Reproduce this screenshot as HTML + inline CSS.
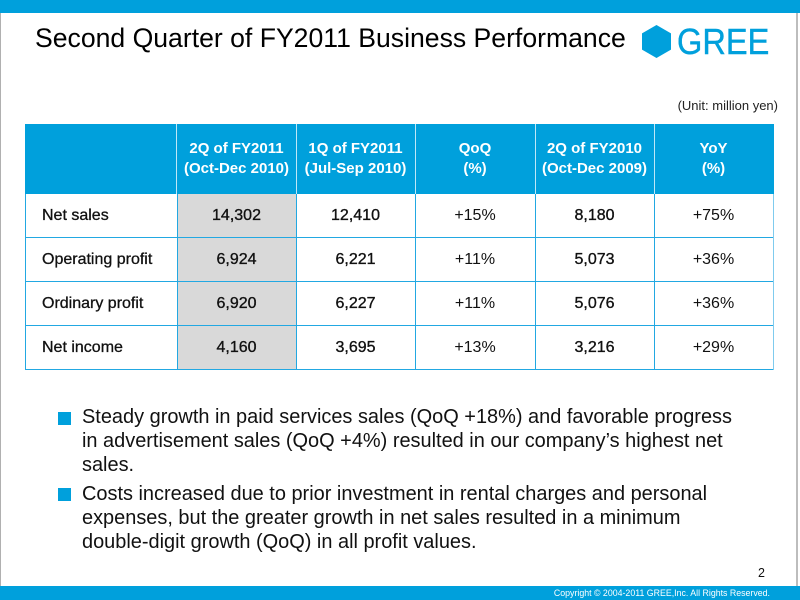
<!DOCTYPE html>
<html>
<head>
<meta charset="utf-8">
<style>
  html,body{margin:0;padding:0;}
  body{width:800px;height:600px;position:relative;overflow:hidden;background:#fff;font-family:"Liberation Sans",Arial,sans-serif;}
  .a{position:absolute;white-space:nowrap;line-height:1;}
  .bar{position:absolute;left:0;width:800px;background:#00a0dc;}
  .hcell{position:absolute;top:124px;height:70px;color:#fff;font-weight:bold;font-size:15px;line-height:20px;text-align:center;display:flex;align-items:center;justify-content:center;}
  .cell{position:absolute;height:44px;display:flex;align-items:center;justify-content:center;font-size:16px;color:#111;}
  .num{-webkit-text-stroke:0.35px #111;}
  .lbl{justify-content:flex-start;padding-left:17px;box-sizing:border-box;-webkit-text-stroke:0.3px #111;}
  .hl{position:absolute;left:25px;width:749px;height:1px;background:#22a8e2;}
  .vl{position:absolute;top:194px;height:176px;width:1px;background:#22a8e2;}
  .hv{position:absolute;top:124px;height:70px;width:1px;background:#bfe7f7;}
  .sq{position:absolute;width:13px;height:13px;background:#00a0dc;}
  .bt{position:absolute;left:82px;font-size:19.95px;line-height:24px;color:#111;white-space:nowrap;}
</style>
</head>
<body>
<!-- top and bottom bars -->
<div class="bar" style="top:0;height:13px;"></div>
<div class="bar" style="top:586px;height:14px;"></div>
<!-- side borders -->
<div style="position:absolute;left:0;top:13px;width:1px;height:573px;background:#b0b0b0;"></div>
<div style="position:absolute;left:796px;top:13px;width:2px;height:573px;background:#bdbdbd;"></div>

<!-- title -->
<div class="a" style="left:35px;top:24.6px;font-size:26.6px;color:#000;">Second Quarter of FY2011 Business Performance</div>

<!-- logo -->
<svg style="position:absolute;left:0;top:0;" width="800" height="70">
  <polygon points="656.5,25 671,33.4 671,49.6 656.5,58 642,49.6 642,33.4" fill="#00a0dc"/>
</svg>
<div class="a" style="left:677px;top:23.8px;font-size:36px;color:#00a0dc;transform:scaleX(0.905);transform-origin:0 0;-webkit-text-stroke:0.4px #00a0dc;">GREE</div>

<!-- unit -->
<div class="a" style="right:22px;top:99px;font-size:13px;color:#222;">(Unit: million yen)</div>

<!-- table header -->
<div style="position:absolute;left:25px;top:124px;width:749px;height:70px;background:#00a0dc;"></div>
<div class="hcell" style="left:177px;width:119px;">2Q of FY2011<br>(Oct-Dec 2010)</div>
<div class="hcell" style="left:296px;width:119px;">1Q of FY2011<br>(Jul-Sep 2010)</div>
<div class="hcell" style="left:415px;width:120px;">QoQ<br>(%)</div>
<div class="hcell" style="left:535px;width:119px;">2Q of FY2010<br>(Oct-Dec 2009)</div>
<div class="hcell" style="left:654px;width:119px;">YoY<br>(%)</div>
<div class="hv" style="left:176px;"></div>
<div class="hv" style="left:296px;"></div>
<div class="hv" style="left:415px;"></div>
<div class="hv" style="left:535px;"></div>
<div class="hv" style="left:654px;"></div>

<!-- gray column -->
<div style="position:absolute;left:177px;top:194px;width:119px;height:175px;background:#d9d9d9;"></div>

<!-- grid -->
<div class="hl" style="top:237px;"></div>
<div class="hl" style="top:281px;"></div>
<div class="hl" style="top:325px;"></div>
<div class="hl" style="top:369px;"></div>
<div class="vl" style="left:25px;"></div>
<div class="vl" style="left:177px;"></div>
<div class="vl" style="left:296px;"></div>
<div class="vl" style="left:415px;"></div>
<div class="vl" style="left:535px;"></div>
<div class="vl" style="left:654px;"></div>
<div class="vl" style="left:773px;background:#7fcbee;"></div>

<!-- rows -->
<div class="cell lbl" style="left:25px;width:152px;top:194px;">Net sales</div>
<div class="cell num" style="left:177px;width:119px;top:194px;">14,302</div>
<div class="cell num" style="left:296px;width:119px;top:194px;">12,410</div>
<div class="cell" style="left:415px;width:120px;top:194px;">+15%</div>
<div class="cell num" style="left:535px;width:119px;top:194px;">8,180</div>
<div class="cell" style="left:654px;width:119px;top:194px;">+75%</div>

<div class="cell lbl" style="left:25px;width:152px;top:238px;">Operating profit</div>
<div class="cell num" style="left:177px;width:119px;top:238px;">6,924</div>
<div class="cell num" style="left:296px;width:119px;top:238px;">6,221</div>
<div class="cell" style="left:415px;width:120px;top:238px;">+11%</div>
<div class="cell num" style="left:535px;width:119px;top:238px;">5,073</div>
<div class="cell" style="left:654px;width:119px;top:238px;">+36%</div>

<div class="cell lbl" style="left:25px;width:152px;top:282px;">Ordinary profit</div>
<div class="cell num" style="left:177px;width:119px;top:282px;">6,920</div>
<div class="cell num" style="left:296px;width:119px;top:282px;">6,227</div>
<div class="cell" style="left:415px;width:120px;top:282px;">+11%</div>
<div class="cell num" style="left:535px;width:119px;top:282px;">5,076</div>
<div class="cell" style="left:654px;width:119px;top:282px;">+36%</div>

<div class="cell lbl" style="left:25px;width:152px;top:326px;">Net income</div>
<div class="cell num" style="left:177px;width:119px;top:326px;">4,160</div>
<div class="cell num" style="left:296px;width:119px;top:326px;">3,695</div>
<div class="cell" style="left:415px;width:120px;top:326px;">+13%</div>
<div class="cell num" style="left:535px;width:119px;top:326px;">3,216</div>
<div class="cell" style="left:654px;width:119px;top:326px;">+29%</div>

<!-- bullets -->
<div class="sq" style="left:58px;top:412px;"></div>
<div class="bt" style="top:405px;">Steady growth in paid services sales (QoQ +18%) and favorable progress<br>in advertisement sales (QoQ +4%) resulted in our company’s highest net<br>sales.</div>
<div class="sq" style="left:58px;top:488px;"></div>
<div class="bt" style="top:482px;">Costs increased due to prior investment in rental charges and personal<br>expenses, but the greater growth in net sales resulted in a minimum<br>double-digit growth (QoQ) in all profit values.</div>

<!-- page number -->
<div class="a" style="left:758px;top:567px;font-size:12.5px;color:#111;">2</div>

<!-- copyright -->
<div class="a" style="right:30px;top:588.5px;font-size:8.8px;color:#fff;">Copyright © 2004-2011 GREE,Inc. All Rights Reserved.</div>
</body>
</html>
